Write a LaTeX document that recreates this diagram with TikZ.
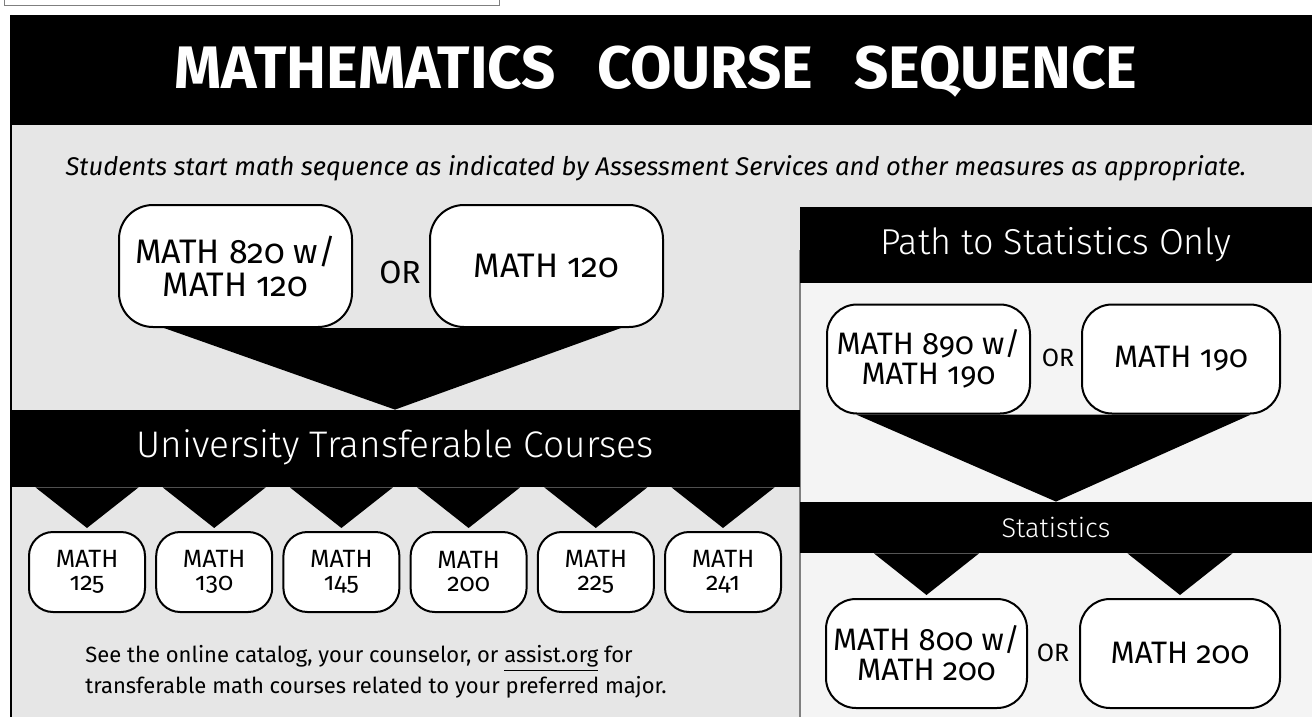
\documentclass[tikz,border=0pt]{standalone}
\usepackage{fontspec}
\setmainfont{Fira Sans}[Numbers=OldStyle]
\newfontfamily\headfont{Fira Sans Light}[Numbers=OldStyle]
\usetikzlibrary{positioning,calc}
\definecolor{panelgray}{HTML}{E6E6E6}
\definecolor{statgray}{HTML}{F4F4F4}
\definecolor{rulegray}{HTML}{7F7F7F}

\tikzset{
  course/.style={draw=black, line width=1pt, fill=white, rounded corners=17pt, align=center, inner sep=0pt},
  bigcourse/.style={course, minimum width=116.5pt, minimum height=61pt, font=\fontsize{17}{16.5}\selectfont},
  statcourse/.style={course, rounded corners=15pt, minimum height=54.5pt, font=\fontsize{15.5}{15}\selectfont},
  smallcourse/.style={course, rounded corners=12pt, minimum width=58pt, minimum height=40pt, font=\fontsize{12.5}{11.5}\selectfont},
  bar/.style={fill=black, inner sep=0pt, text=white},
  ortext/.style={font=\fontsize{16}{18}\selectfont},
}

\begin{document}
\begin{tikzpicture}[x=0.5pt,y=-0.5pt]
\useasboundingbox (0,0) rectangle (1312,717);
% panels
\draw[rulegray] (4,-10) rectangle (499,5);
\fill[panelgray] (11,125) rectangle (1312,717);
\fill[statgray] (800,283) rectangle (1312,717);
\draw[rulegray, line width=1pt] (800,250) -- (800,717);
\draw[line width=1pt] (11,15) -- (11,717);
\fill[black] (10,15) rectangle (1312,125);
\node[text=white, font=\fontsize{30}{36}\selectfont\bfseries] (title) at (656,72) {MATHEMATICS\hspace{0.45em} COURSE\hspace{0.45em} SEQUENCE};
\node[font=\fontsize{12.8}{15}\selectfont\itshape] (intro) at (656,168) {Students start math sequence as indicated by Assessment Services and other measures as appropriate.};

% transferable path
\node[bigcourse] (m820) at (235.5,266) {MATH 820 w/\\MATH 120};
\node[ortext] (or1) at (400,272) {OR};
\node[bigcourse] (m120) at (546.5,266) {MATH 120};
\node[bar, minimum width=394pt, minimum height=38.5pt] (utcbar) at (406,448.5) {};
\node[text=white, font=\fontsize{18.5}{20}\headfont] (utc) at (395,447) {University Transferable Courses};
\fill ($(m820.south west)+(46,0)$) -- ($(m120.south east)+(-43,0)$) -- (utc |- utcbar.north) -- cycle;
\foreach \num [count=\i] in {125,130,145,200,225,241}{
  \node[smallcourse] (c\num) at ({87+127.2*(\i-1)},572) {MATH\\\num};
  \fill ($(c\num.north |- utcbar.south)+(-51.5,0)$) -- ($(c\num.north |- utcbar.south)+(51.5,0)$) -- ($(c\num.north)+(0,-3)$) -- cycle;
}
\node[anchor=west, align=left, inner sep=0pt, font=\fontsize{11}{15.5}\selectfont] (note) at (85,672) {See the online catalog, your counselor, or \underline{assist.org} for\\transferable math courses related to your preferred major.};

% statistics path
\node[bar, minimum width=256pt, minimum height=38pt, font=\fontsize{18}{20}\headfont] (stathead) at (1056,245) {Path to Statistics Only};
\node[statcourse, minimum width=101.5pt] (m890) at (928.5,359) {MATH 890 w/\\MATH 190};
\node[ortext, font=\fontsize{12.5}{14}\selectfont] (or2) at (1058,358) {OR};
\node[statcourse, minimum width=99pt] (m190) at (1181,359) {MATH 190};
\node[bar, minimum width=256pt, minimum height=25.5pt, font=\fontsize{13.5}{15}\headfont] (statbar) at (1056,527.5) {Statistics};
\fill ($(m890.south west)+(30,0)$) -- ($(m190.south east)+(-30,0)$) -- (statbar.north) -- cycle;
\node[statcourse, minimum width=100.5pt] (m800) at (926.5,653.5) {MATH 800 w/\\MATH 200};
\node[ortext, font=\fontsize{12.5}{14}\selectfont] (or3) at (1053,653) {OR};
\node[statcourse, minimum width=100pt] (m200) at (1180,653.5) {MATH 200};
\foreach \crs in {m800,m200}
  \fill ($(\crs.north |- statbar.south)+(-52.5,0)$) -- ($(\crs.north |- statbar.south)+(52.5,0)$) -- ($(\crs.north)+(0,-3)$) -- cycle;
\end{tikzpicture}
\end{document}
